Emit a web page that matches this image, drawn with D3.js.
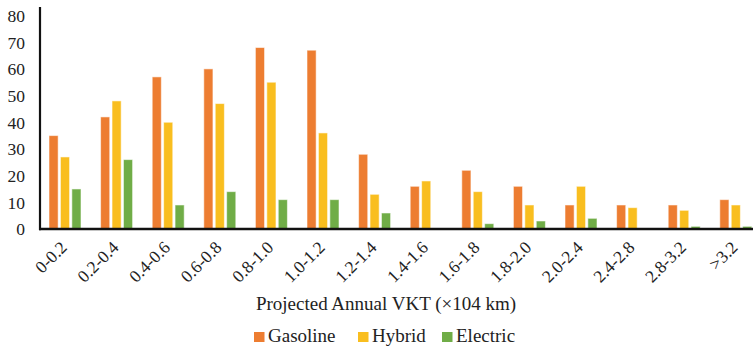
<!DOCTYPE html>
<html>
<head>
<meta charset="utf-8">
<script src="https://cdn.jsdelivr.net/npm/d3@7"></script>
</head>
<body style="margin:0;background:#fff">
<svg id="chart" width="753" height="346" font-family="Liberation Serif" style="display:block"></svg>
<script>
const categories = ["0-0.2","0.2-0.4","0.4-0.6","0.6-0.8","0.8-1.0","1.0-1.2","1.2-1.4","1.4-1.6","1.6-1.8","1.8-2.0","2.0-2.4","2.4-2.8","2.8-3.2",">3.2"];
const seriesNames = ["Gasoline","Hybrid","Electric"];
const gasoline = [35,42,57,60,68,67,28,16,22,16,9,9,9,11];
const hybrid   = [27,48,40,47,55,36,13,18,14,9,16,8,7,9];
const electric = [15,26,9,14,11,11,6,0,2,3,4,0,1,1];
const colors = ["#ED7D31","#F9BE1F","#70AD47"];
const yTicks = [0,10,20,30,40,50,60,70,80];
const xTitle = "Projected Annual VKT (\u00d7104 km)";

const FONT = "'Liberation Serif'";
const seriesValues = [gasoline, hybrid, electric];
const svg = d3.select("#chart");

function styleText(sel, size) {
  return sel.attr("font-family", "Liberation Serif")
    .style("font-family", FONT)
    .style("font-size", size + "px")
    .style("fill", "#222");
}

function draw() {
  svg.selectAll("*").remove();
  const x0 = d3.scaleBand().domain(categories).range([39.2, 761.6]).paddingInner(0).paddingOuter(0);
  const x1 = d3.scaleBand().domain(seriesNames).range([9.8, 41.8]).paddingInner(0.2).paddingOuter(0);
  const y = d3.scaleLinear().domain([0, 80]).range([229, 15.5]);

  // bars
  const groups = svg.append("g").selectAll("g")
    .data(categories)
    .join("g")
    .attr("transform", d => `translate(${x0(d)},0)`);

  groups.selectAll("rect")
    .data((c, i) => seriesNames.map((s, j) => ({ s, j, v: seriesValues[j][i] })))
    .join("rect")
    .filter(d => d.v > 0)
    .attr("x", d => x1(d.s))
    .attr("width", x1.bandwidth())
    .attr("y", d => y(d.v))
    .attr("height", d => y(0) - y(d.v))
    .attr("fill", d => colors[d.j])
    .attr("stroke", "rgba(255,255,255,0.55)")
    .attr("stroke-width", 1);

  // y axis
  const yAxis = d3.axisLeft(y).tickValues(yTicks).tickSize(0).tickPadding(15);
  const yg = svg.append("g").attr("transform", "translate(40,0)").call(yAxis);
  yg.attr("font-family", "Liberation Serif");
  yg.select(".domain").remove();
  styleText(yg.selectAll("text"), 17.5).attr("dy", "0.34em");
  svg.append("line").attr("x1", 40).attr("x2", 40).attr("y1", 7).attr("y2", 230.2)
    .attr("stroke", "#111").attr("stroke-width", 2.2);

  // x axis
  const xAxis = d3.axisBottom(x0).tickSize(0).tickPadding(0);
  const xg = svg.append("g").attr("transform", `translate(0,${y(0)})`).call(xAxis);
  xg.attr("font-family", "Liberation Serif");
  xg.select(".domain").remove();
  styleText(xg.selectAll("text"), 17.5)
    .attr("text-anchor", "end")
    .attr("y", 0).attr("dy", 0)
    .attr("transform", "translate(3,19.5) rotate(-45)");
  svg.append("line").attr("x1", 39).attr("x2", 753).attr("y1", y(0)).attr("y2", y(0))
    .attr("stroke", "#111").attr("stroke-width", 2.4);

  // x title
  styleText(svg.append("text").attr("x", 386).attr("y", 310).attr("text-anchor", "middle"), 19)
    .text(xTitle);

  // legend
  const legendX = [254, 358, 442];
  const lg = svg.append("g").selectAll("g").data(seriesNames).join("g")
    .attr("transform", (d, i) => `translate(${legendX[i]},332)`);
  lg.append("rect").attr("width", 10.5).attr("height", 10).attr("fill", (d, i) => colors[i]);
  styleText(lg.append("text").attr("x", 14).attr("y", 9.5), 19).text(d => d);
}

draw();
if (document.fonts && document.fonts.load) {
  Promise.all([
    document.fonts.load("17.5px 'Liberation Serif'", "0123456789-.>"),
    document.fonts.load("19px 'Liberation Serif'", "Projected Annual VKT (\u00d7104 km) Gasoline Hybrid Electric")
  ]).then(draw).catch(() => {});
  if (document.fonts.ready) document.fonts.ready.then(draw).catch(() => {});
}
</script>
</body>
</html>
